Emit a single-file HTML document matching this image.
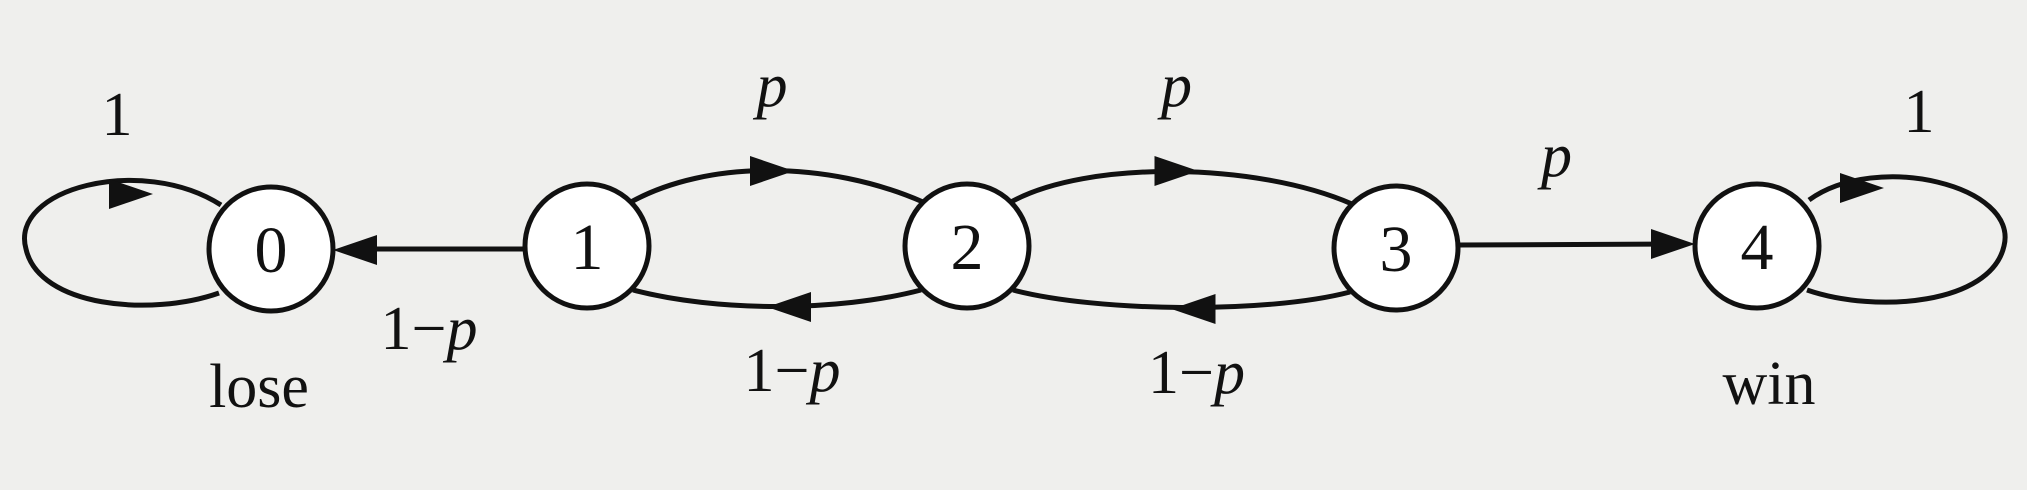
<!DOCTYPE html>
<html><head><meta charset="utf-8"><style>
html,body{margin:0;padding:0;background:#efefed;}
svg{display:block;}
text{font-family:"Liberation Serif","DejaVu Serif",serif;fill:#111;}
</style></head><body>
<svg id="chart" width="2027" height="490" viewBox="0 0 2027 490" xmlns="http://www.w3.org/2000/svg">
<rect x="0" y="0" width="2027" height="490" fill="#efefed"/>
<g id="edges" fill="none" stroke="#111" stroke-width="5"></g>
<g id="nodes"></g>
<g id="labels"></g>
</svg>
<script>
const stateNames=["0","1","2","3","4"];
const nodeX=[271,587,967,1396,1757];
const nodeY=[249,246,246,248,246];
const edgeLabels=["1","1−p","p","1−p","p","1−p","p","1"];
const NS="http://www.w3.org/2000/svg";
const R=62;
const eg=document.getElementById('edges'),ng=document.getElementById('nodes'),lg=document.getElementById('labels');
function path(d,name){const p=document.createElementNS(NS,'path');p.setAttribute('d',d);


eg.appendChild(p);return p;}
function arrow(x,y,dir,name){const p=document.createElementNS(NS,'path');
const s=dir;p.setAttribute('d',`M${x+22*s},${y} L${x-22*s},${y-15} L${x-22*s},${y+15} Z`);
p.setAttribute('fill','#111');p.setAttribute('stroke','none');


eg.appendChild(p);}
function label(x,y,t,name){const e=document.createElementNS(NS,'text');
e.setAttribute('x',x);e.setAttribute('y',y);e.setAttribute('font-size','62');e.setAttribute('text-anchor','middle');
if(t.includes('p')){const parts=t.split('p');e.appendChild(document.createTextNode(parts[0]));
const ts=document.createElementNS(NS,'tspan');ts.setAttribute('font-style','italic');ts.textContent='p';e.appendChild(ts);}
else e.textContent=t;


lg.appendChild(e);}
// self loop on 0
{const x=nodeX[0],y=nodeY[0];
path(`M${x-50},${y-44} C${x-130},${y-95} ${x-262},${y-60} ${x-245},${y} C${x-232},${y+58} ${x-120},${y+68} ${x-52},${y+44}`,'loop-edge-0');
arrow(x-140,y-55,1,'arrow-loop-0');
label(x-154,y-114,edgeLabels[0],'label-loop-0');}
// 1 -> 0
path(`M${nodeX[1]-R},${nodeY[1]+3} L${nodeX[0]+R+20},${nodeY[0]}`,'edge-1-0');
arrow(nodeX[0]+R+22,nodeY[0]+1,-1,'arrow-1-0');
label((nodeX[0]+nodeX[1])/2,nodeY[0]+100,edgeLabels[1],'label-1-0');
// pairs i <-> i+1
for(let i=1;i<=2;i++){
 const x1=nodeX[i],y1=nodeY[i],x2=nodeX[i+1],y2=nodeY[i+1],mx=(x1+x2)/2;
 path(`M${x1+44},${y1-44} C${x1+120},${y1-86} ${x2-140},${y2-86} ${x2-44},${y2-44}`,'edge-'+i+'-'+(i+1));
 arrow(mx-5,Math.min(y1,y2)-75,1,'arrow-'+i+'-'+(i+1));
 label(mx-5,Math.min(y1,y2)-140,edgeLabels[i*2],'label-'+i+'-'+(i+1));
 path(`M${x2-46},${y2+44} C${x2-130},${y2+66} ${x1+130},${y1+66} ${x1+46},${y1+44}`,'edge-'+(i+1)+'-'+i);
 arrow(mx+12,Math.max(y1,y2)+61,-1,'arrow-'+(i+1)+'-'+i);
 label(mx+15,Math.max(y1,y2)+145,edgeLabels[i*2+1],'label-'+(i+1)+'-'+i);
}
// 3 -> 4
path(`M${nodeX[3]+R},${nodeY[3]-3} L${nodeX[4]-R-20},${nodeY[4]-2}`,'edge-3-4');
arrow(nodeX[4]-R-22,nodeY[4]-2,1,'arrow-3-4');
label((nodeX[3]+nodeX[4])/2-20,nodeY[3]-72,edgeLabels[6],'label-3-4');
// loop 4
{const x=nodeX[4],y=nodeY[4];
path(`M${x+52},${y-46} C${x+120},${y-95} ${x+262},${y-60} ${x+247},${y} C${x+234},${y+58} ${x+120},${y+68} ${x+50},${y+44}`,'loop-edge-4');
arrow(x+105,y-58,1,'arrow-loop-4');
label(x+162,y-114,edgeLabels[7],'label-loop-4');}
// nodes
for(let i=0;i<stateNames.length;i++){
 const c=document.createElementNS(NS,'circle');
 c.setAttribute('cx',nodeX[i]);c.setAttribute('cy',nodeY[i]);c.setAttribute('r',R);
 c.setAttribute('fill','#fff');c.setAttribute('stroke','#111');c.setAttribute('stroke-width','5');
 
 
 ng.appendChild(c);
 const t=document.createElementNS(NS,'text');
 t.setAttribute('x',nodeX[i]);t.setAttribute('y',nodeY[i]+23);t.setAttribute('font-size','66');t.setAttribute('text-anchor','middle');
 t.textContent=stateNames[i];
 
 
 ng.appendChild(t);
}
label(nodeX[0]-12,nodeY[0]+158,'lose','lose-label');
label(nodeX[4]+12,nodeY[4]+158,'win','win-label');
</script>
</body></html>
